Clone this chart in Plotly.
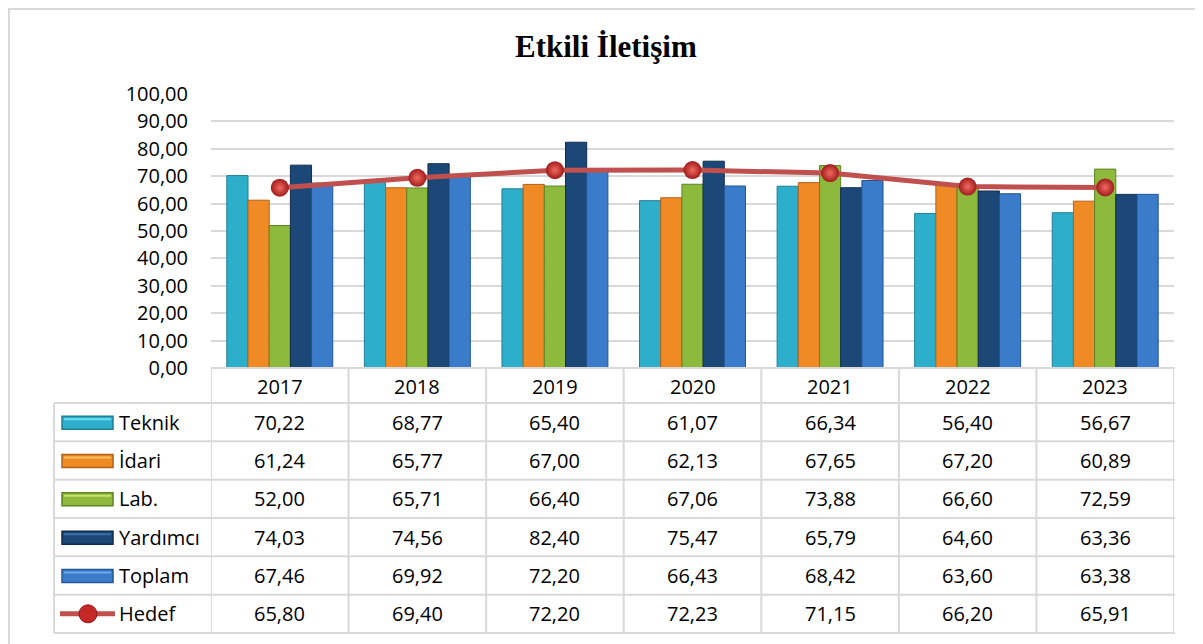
import plotly.graph_objects as go

years = ["2017", "2018", "2019", "2020", "2021", "2022", "2023"]
teknik = [70.22, 68.77, 65.40, 61.07, 66.34, 56.40, 56.67]
idari = [61.24, 65.77, 67.00, 62.13, 67.65, 67.20, 60.89]
lab = [52.00, 65.71, 66.40, 67.06, 73.88, 66.60, 72.59]
yardimci = [74.03, 74.56, 82.40, 75.47, 65.79, 64.60, 63.36]
toplam = [67.46, 69.92, 72.20, 66.43, 68.42, 63.60, 63.38]
hedef = [65.80, 69.40, 72.20, 72.23, 71.15, 66.20, 65.91]

bar_series = [
    ("Teknik", teknik, "#2DAFCB", "#1E7F96", "#6FDDEF"),
    ("İdari", idari, "#F08A24", "#B3601A", "#F9C060"),
    ("Lab.", lab, "#8DBA3C", "#5E8424", "#C5E36E"),
    ("Yardımcı", yardimci, "#1C4878", "#102C4C", "#3C6EA8"),
    ("Toplam", toplam, "#3A7CC9", "#245596", "#6FA8E6"),
]
hedef_name = "Hedef"
line_color = "#C0504D"

FONT = "Open Sans"

# page offset of the figure (browser body margin)
OFF = 8
# plot-area pixel geometry on the page (layout only)
L, R, T, B = 211, 1174, 94, 368
W, H = R - L, B - T


def px(p):
    return (p - L) / W


def py(p):
    return (B - p) / H


fig = go.Figure()
for name, vals, col, edge, _ in bar_series:
    fig.add_trace(go.Bar(
        x=years, y=vals, name=name,
        marker=dict(color=col, line=dict(color=edge, width=1)),
        showlegend=False,
    ))

fig.add_trace(go.Scatter(
    x=years, y=hedef, name=hedef_name, mode="lines+markers",
    line=dict(color=line_color, width=5),
    marker=dict(size=18, color="#A01C1C",
                gradient=dict(type="radial", color="#F26A60"),
                line=dict(width=0)),
    showlegend=False,
))

shapes = []
annotations = []
grid = "#D9D9D9"

# outer frame (bottom edge falls outside the picture, as in the reference)
shapes.append(dict(type="rect", xref="paper", yref="paper",
                   x0=px(9), x1=px(1197), y0=py(660), y1=py(9),
                   line=dict(color=grid, width=2), layer="below"))

# table geometry
hdr_top, hdr_bot = 368, 403
row_h = (633 - 403) / 6
tbl_left, tbl_right = 54, 1175
row_bounds = [hdr_bot + i * row_h for i in range(7)]

# horizontal lines
shapes.append(dict(type="line", xref="paper", yref="paper",
                   x0=px(L), x1=px(tbl_right), y0=py(hdr_top), y1=py(hdr_top),
                   line=dict(color=grid, width=2)))
for yb in row_bounds:
    shapes.append(dict(type="line", xref="paper", yref="paper",
                       x0=px(tbl_left), x1=px(tbl_right), y0=py(yb), y1=py(yb),
                       line=dict(color=grid, width=2)))
# vertical lines
shapes.append(dict(type="line", xref="paper", yref="paper",
                   x0=px(tbl_left), x1=px(tbl_left), y0=py(hdr_bot), y1=py(633),
                   line=dict(color=grid, width=2)))
for k in range(len(years) + 1):
    shapes.append(dict(type="line", xref="x", yref="paper",
                       x0=k - 0.5, x1=k - 0.5, y0=py(hdr_top), y1=py(633),
                       line=dict(color=grid, width=2)))

# header years (category index positions on the x axis)
for k, yr in enumerate(years):
    annotations.append(dict(xref="x", yref="paper", x=k, y=py((hdr_top + hdr_bot) / 2 + 1),
                            text=yr, showarrow=False, xanchor="center", yanchor="middle",
                            font=dict(family=FONT, size=20, color="#000")))


def fmt(v):
    return f"{v:.2f}".replace(".", ",")


all_rows = [(n, v) for n, v, *_ in bar_series] + [(hedef_name, hedef)]
for i, (name, vals) in enumerate(all_rows):
    yc = row_bounds[i] + row_h / 2
    for k, v in enumerate(vals):
        annotations.append(dict(xref="x", yref="paper", x=k, y=py(yc),
                                text=fmt(v), showarrow=False, xanchor="center", yanchor="middle",
                                font=dict(family=FONT, size=20, color="#000")))
    annotations.append(dict(xref="paper", yref="paper", x=px(117), y=py(yc),
                            text=name, showarrow=False, xanchor="left", yanchor="middle",
                            font=dict(family=FONT, size=20, color="#000")))
    if i < len(bar_series):
        _, _, col, edge, light = bar_series[i]
        shapes.append(dict(type="rect", xref="paper", yref="paper",
                           x0=px(62), x1=px(113), y0=py(yc + 7), y1=py(yc - 6),
                           fillcolor=col, line=dict(color=edge, width=1.5)))
        shapes.append(dict(type="rect", xref="paper", yref="paper",
                           x0=px(64), x1=px(111), y0=py(yc - 2), y1=py(yc - 4),
                           fillcolor=light, line=dict(width=0)))
    else:
        shapes.append(dict(type="line", xref="paper", yref="paper",
                           x0=px(60), x1=px(115), y0=py(yc), y1=py(yc),
                           line=dict(color=line_color, width=5)))
        shapes.append(dict(type="circle", xref="paper", yref="paper",
                           x0=px(79), x1=px(97), y0=py(yc + 9), y1=py(yc - 9),
                           fillcolor="#C62828", line=dict(color="#8E1616", width=1)))

# title
annotations.append(dict(xref="paper", yref="paper", x=px(606), y=py(46),
                        text="<b>Etkili İletişim</b>", showarrow=False,
                        xanchor="center", yanchor="middle",
                        font=dict(family="Liberation Serif", size=31, color="#000")))

fig.update_layout(
    width=1203 - OFF, height=644 - OFF,
    margin=dict(l=L - OFF, r=1203 - R, t=T - OFF, b=644 - B, autoexpand=False),
    paper_bgcolor="white", plot_bgcolor="white",
    separators=",.",
    barmode="group", bargap=0.23, bargroupgap=0,
    shapes=shapes, annotations=annotations,
    showlegend=False,
    xaxis=dict(type="category", showticklabels=False, showgrid=False,
               zeroline=False, showline=False, ticks="",
               range=[-0.5, len(years) - 0.5]),
    yaxis=dict(range=[0, 100], dtick=10, tickformat=".2f",
               showgrid=True, gridcolor=grid, gridwidth=2,
               zeroline=False, showline=False, ticks="",
               ticklabelstandoff=22,
               tickfont=dict(family=FONT, size=20, color="#000")),
)

fig.write_html("out.html")
